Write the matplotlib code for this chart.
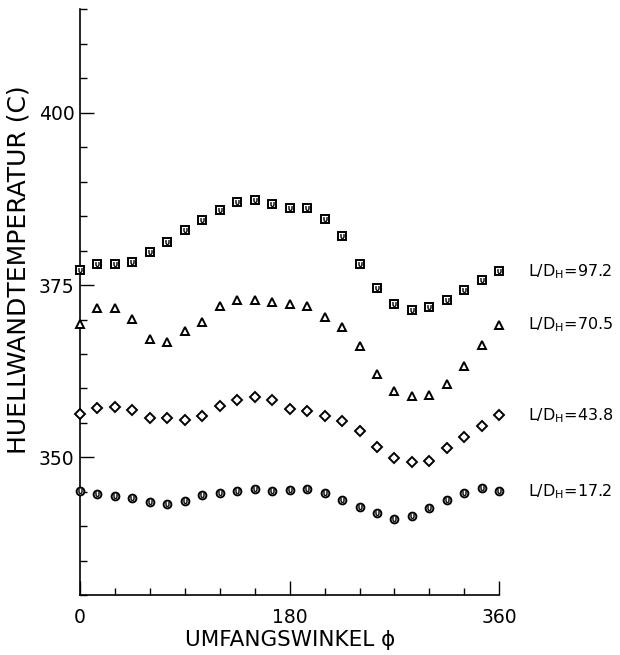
import numpy as np
import matplotlib
matplotlib.use("Agg")
import matplotlib.pyplot as plt
from matplotlib.ticker import MultipleLocator, FixedLocator

# Umfangswinkel (Grad)
phi = [0, 15, 30, 45, 60, 75, 90, 105, 120, 135, 150, 165, 180,
       195, 210, 225, 240, 255, 270, 285, 300, 315, 330, 345, 360]

# Huellwandtemperatur (C) je L/D_H
t_97_2 = [377.2, 378.1, 378.0, 378.3, 379.8, 381.2, 383.0, 384.5, 385.9,
          387.0, 387.3, 386.8, 386.2, 386.2, 384.6, 382.1, 378.1, 374.6,
          372.2, 371.4, 371.8, 372.8, 374.3, 375.8, 377.0]
t_70_5 = [369.3, 371.7, 371.7, 370.1, 367.2, 366.8, 368.3, 369.7, 372.0,
          372.9, 372.9, 372.5, 372.2, 372.0, 370.4, 368.9, 366.1, 362.1,
          359.6, 358.9, 359.0, 360.6, 363.2, 366.3, 369.2]
t_43_8 = [356.3, 357.2, 357.3, 356.9, 355.7, 355.7, 355.5, 356.0, 357.4,
          358.4, 358.8, 358.4, 357.0, 356.8, 356.0, 355.3, 353.9, 351.5,
          349.9, 349.3, 349.5, 351.4, 352.9, 354.5, 356.1]
t_17_2 = [345.1, 344.7, 344.4, 344.1, 343.6, 343.2, 343.7, 344.5, 344.9,
          345.1, 345.4, 345.1, 345.3, 345.4, 344.8, 343.8, 342.8, 341.9,
          341.1, 341.5, 342.6, 343.8, 344.9, 345.5, 345.1]

series = [t_97_2, t_70_5, t_43_8, t_17_2]
labels = ["97.2", "70.5", "43.8", "17.2"]
markers = ["s", "^", "D", "o"]
msizes = [5.8, 6.2, 4.6, 5.6]
inner_u = [True, False, False, True]   # plotter symbols with a "U" inside

fig = plt.figure(figsize=(6.2, 6.55), dpi=100)
ax = fig.add_axes([0.129, 0.0911, 0.6763, 0.8947])

for ys, lab, m, ms, u in zip(series, labels, markers, msizes, inner_u):
    ax.plot(phi, ys, linestyle="none", marker=m, markersize=ms,
            markerfacecolor="white", markeredgecolor="black",
            markeredgewidth=1.4, clip_on=False, zorder=3)
    if u:
        ax.plot(phi, ys, linestyle="none", marker=r"$\cup$", markersize=3.2,
                color="black", markeredgewidth=0.4, clip_on=False, zorder=4)
    ax.text(385, ys[-1], r"L/D$_{\mathregular{H}}$=" + lab, fontsize=11.5,
            ha="left", va="center", clip_on=False)

ax.set_xlim(0, 360)
ax.set_ylim(330, 415)

ax.xaxis.set_major_locator(FixedLocator([0, 180, 360]))
ax.xaxis.set_minor_locator(MultipleLocator(30))
ax.yaxis.set_major_locator(FixedLocator([350, 375, 400]))
ax.yaxis.set_minor_locator(MultipleLocator(5))

ax.tick_params(which="both", direction="in", width=1.0, colors="black")
ax.tick_params(which="major", length=10)
ax.tick_params(which="minor", length=5)
ax.tick_params(axis="x", which="major", pad=9, labelsize=13.5)
ax.tick_params(axis="y", which="major", pad=4, labelsize=13.5)

for side in ["top", "right"]:
    ax.spines[side].set_visible(False)
for side in ["left", "bottom"]:
    ax.spines[side].set_linewidth(1.2)

ax.set_xlabel("UMFANGSWINKEL ϕ", fontsize=15.5, labelpad=2)
fig.text(0.03, 1 - 270 / 655, "HUELLWANDTEMPERATUR (C)", rotation=90,
         fontsize=18, ha="center", va="center")

fig.savefig("out.png", dpi=100)
